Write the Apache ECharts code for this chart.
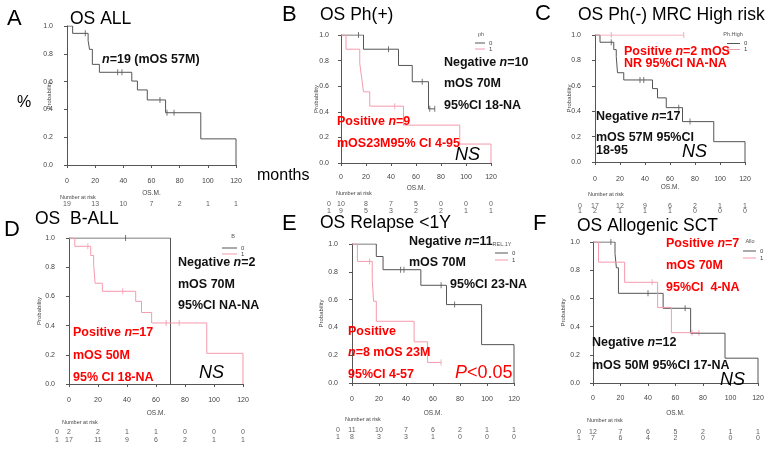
<!DOCTYPE html>
<html>
<head>
<meta charset="utf-8">
<script src="https://cdn.jsdelivr.net/npm/echarts@6.0.0/dist/echarts.min.js"></script>
<style>
  html, body { margin: 0; padding: 0; background: #fff; }
  #chart { width: 770px; height: 449px; }
</style>
</head>
<body>
<div id="chart"></div>
<script>
const FONT = '"Liberation Sans", Arial, sans-serif'
const GREY = '#555', PINK = '#f59aac', RED = '#ff0000', INK = '#111'

// months on the x axis, also the columns of the risk tables
const ticks = [0, 20, 40, 60, 80, 100, 120]
const groups = ['0', '1']

// A  all patients
const allTime = [0, 4, 15, 16, 18, 23, 46, 50, 57, 70, 95, 120]
const allSurv = [1, 0.947, 0.894, 0.832, 0.724, 0.667, 0.604, 0.54, 0.468, 0.376, 0.188, 0]
const allCens = [13, 36, 39, 66, 71, 76]
const allRisk = [19, 13, 10, 7, 2, 1, 1]

// B  ph  (0 = negative, 1 = positive)
const phNegTime = [0, 18, 46, 57, 70, 75]
const phNegSurv = [1, 0.889, 0.762, 0.635, 0.423, 0.423]
const phNegCens = [14, 38, 65, 71, 75]
const phPosTime = [0, 4, 15, 16.5, 18, 23, 50, 95, 120]
const phPosSurv = [1, 0.889, 0.778, 0.667, 0.556, 0.444, 0.296, 0.148, 0]
const phPosCens = [43]
const phRisk0 = [10, 8, 7, 5, 0, 0, 0]
const phRisk1 = [9, 5, 3, 2, 2, 1, 1]

// C  Ph(-) MRC high risk
const hrNegTime = [0, 4, 15, 17, 18, 23, 46, 50, 57, 70, 95, 120]
const hrNegSurv = [1, 0.943, 0.885, 0.83, 0.703, 0.646, 0.578, 0.505, 0.428, 0.318, 0.16, 0]
const hrNegCens = [13, 36, 39, 67, 76]
const hrPosTime = [0, 71]
const hrPosSurv = [1, 1]
const hrPosCens = [13, 71]
const hrRisk0 = [17, 12, 9, 6, 2, 1, 1]
const hrRisk1 = [2, 1, 1, 1, 0, 0, 0]

// D  B-ALL
const bNegTime = [0, 70]
const bNegSurv = [1, 0]
const bNegCens = [39]
const bPosTime = [0, 4, 15, 17, 18, 23, 46, 50, 57, 95, 120]
const bPosSurv = [1, 0.943, 0.88, 0.82, 0.69, 0.635, 0.566, 0.49, 0.418, 0.21, 0]
const bPosCens = [13, 37, 67, 70, 76]
const bRisk0 = [2, 2, 1, 1, 0, 0, 0]
const bRisk1 = [17, 11, 9, 6, 2, 1, 1]

// E  relapse < 1 year
const relNegTime = [0, 18, 23, 51, 70, 96, 120]
const relNegSurv = [1, 0.91, 0.815, 0.703, 0.564, 0.276, 0]
const relNegCens = [36, 38.5, 66, 76]
const relPosTime = [0, 4, 15, 16, 18, 46, 56, 66]
const relPosSurv = [1, 0.875, 0.736, 0.588, 0.444, 0.296, 0.148, 0.148]
const relPosCens = [13, 66]
const relRisk0 = [11, 10, 7, 6, 2, 1, 1]
const relRisk1 = [8, 3, 3, 1, 0, 0, 0]

// F  allogenic SCT
const alloNegTime = [0, 16, 17, 18.5, 51, 71, 96, 120]
const alloNegSurv = [1, 0.918, 0.817, 0.636, 0.53, 0.353, 0.176, 0]
const alloNegCens = [13, 40, 67]
const alloPosTime = [0, 4, 23, 47, 57, 77]
const alloPosSurv = [1, 0.857, 0.714, 0.536, 0.357, 0.357]
const alloPosCens = [43, 72, 77]
const alloRisk0 = [12, 7, 6, 5, 2, 1, 1]
const alloRisk1 = [7, 6, 4, 2, 0, 0, 0]

// survival value of a step curve at time t (for placing censor ticks)
function stepAt(time, surv, t) {
  let v = surv[0]
  time.forEach((x, i) => { if (x <= t) v = surv[i] })
  return v
}

// box = [left, top, width, height] of the plotting area (0..120 by 0..1)
const panels = [
  { box: [67, 26, 169, 139], xOff: 7, yOff: 7, yName: 8, osGap: 18, riskTop: 204, riskGap: 7, rowShift: 0, nrY: 197,
    risk: [allRisk],
    curves: [{ name: 'all', t: allTime, s: allSurv, c: allCens, color: GREY }] },
  { box: [341, 35, 150, 128], xOff: 5, yOff: 5, yName: 17, osGap: 17, riskTop: 204, riskGap: 7, rowShift: 12, nrY: 193,
    risk: [phRisk0, phRisk1],
    curves: [{ name: '0', t: phNegTime, s: phNegSurv, c: phNegCens, color: GREY },
             { name: '1', t: phPosTime, s: phPosSurv, c: phPosCens, color: PINK }],
    legend: { title: 'ph', tx: 481, ty: 34, left: 475, top: 40, w: 10, h: 6 } },
  { box: [595, 35, 150, 127], xOff: 8, yOff: 7, yName: 16, osGap: 14, riskTop: 206, riskGap: 5, rowShift: 15, nrY: 194,
    risk: [hrRisk0, hrRisk1],
    curves: [{ name: '0', t: hrNegTime, s: hrNegSurv, c: hrNegCens, color: GREY },
             { name: '1', t: hrPosTime, s: hrPosSurv, c: hrPosCens, color: PINK }],
    legend: { title: 'Ph.High', tx: 733, ty: 34, left: 727, top: 40.5, w: 13, h: 5 } },
  { box: [69, 238, 174, 146], xOff: 7, yOff: 7, yName: 20, osGap: 19, riskTop: 432, riskGap: 8, rowShift: 12, nrY: 422,
    risk: [bRisk0, bRisk1],
    curves: [{ name: '0', t: bNegTime, s: bNegSurv, c: bNegCens, color: GREY },
             { name: '1', t: bPosTime, s: bPosSurv, c: bPosCens, color: PINK }],
    legend: { title: 'B', tx: 233, ty: 236, left: 222, top: 245, w: 15, h: 6 } },
  { box: [352, 244, 162, 139], xOff: 7, yOff: 7, yName: 21, osGap: 20, riskTop: 430, riskGap: 7, rowShift: 14, nrY: 419,
    risk: [relRisk0, relRisk1],
    curves: [{ name: '0', t: relNegTime, s: relNegSurv, c: relNegCens, color: GREY },
             { name: '1', t: relPosTime, s: relPosSurv, c: relPosCens, color: PINK }],
    legend: { title: 'REL.1Y', tx: 502, ty: 244, left: 495, top: 249.5, w: 13, h: 7 } },
  { box: [593, 242, 165, 141], xOff: 6, yOff: 6, yName: 21, osGap: 21, riskTop: 432, riskGap: 6, rowShift: 14, nrY: 420,
    risk: [alloRisk0, alloRisk1],
    curves: [{ name: '0', t: alloNegTime, s: alloNegSurv, c: alloNegCens, color: GREY },
             { name: '1', t: alloPosTime, s: alloPosSurv, c: alloPosCens, color: PINK }],
    legend: { title: 'Allo', tx: 750, ty: 241, left: 743, top: 247.5, w: 13, h: 7 } }
]

const small = { fontSize: 7, color: '#444', fontFamily: FONT }

const grid = [], xAxis = [], yAxis = [], series = [], legend = [], graphic = []

// plain or rich text; segments given as ['n'] are drawn italic
function label(x, y, parts, opt) {
  const o = Object.assign({ size: 12.5, color: INK, weight: 'bold' }, opt)
  const base = { fontSize: o.size, fontWeight: o.weight, fontFamily: FONT, fill: o.color }
  const segs = Array.isArray(parts) ? parts : [parts]
  const text = segs.map(s => typeof s === 'string' ? '{r|' + s + '}' : '{i|' + s[0] + '}').join('')
  return {
    type: 'text', x, y, z: 100,
    style: Object.assign({ text, verticalAlign: 'middle', align: o.align || 'left',
      rich: { r: base, i: Object.assign({}, base, { fontStyle: 'italic' }) } }, base)
  }
}

panels.forEach((p, i) => {
  const [left, top, width, height] = p.box
  grid.push({ left, top, width, height, outerBoundsMode: 'none' })
  xAxis.push({
    gridIndex: i, type: 'value', min: 0, max: 120, interval: 20, offset: p.xOff,
    name: 'OS.M.', nameLocation: 'middle', nameGap: p.osGap, nameMoveOverlap: false,
    nameTextStyle: { fontSize: 6.5, color: '#444', fontFamily: FONT },
    axisLine: { lineStyle: { color: GREY, width: 1 } },
    axisTick: { length: 3, lineStyle: { color: GREY } },
    axisLabel: Object.assign({ margin: 6 }, small),
    splitLine: { show: false }
  })
  yAxis.push({
    gridIndex: i, type: 'value', min: 0, max: 1, interval: 0.2, offset: p.yOff,
    name: 'Probability', nameLocation: 'middle', nameRotate: 90, nameGap: p.yName, nameMoveOverlap: false,
    nameTextStyle: { fontSize: 6, color: '#444', fontFamily: FONT },
    axisLine: { show: true, lineStyle: { color: GREY, width: 1 } },
    axisTick: { show: true, length: 3, lineStyle: { color: GREY } },
    axisLabel: Object.assign({ margin: 7, formatter: v => v.toFixed(1) }, small),
    splitLine: { show: false }
  })
  p.curves.forEach(c => {
    series.push({
      name: c.name, type: 'line', step: 'end', xAxisIndex: i, yAxisIndex: i,
      symbol: 'none', color: c.color, lineStyle: { color: c.color, width: 1 },
      data: c.t.map((t, k) => [t, c.s[k]]), animation: false
    })
    series.push({
      name: 'cens' + c.name, type: 'scatter', xAxisIndex: i, yAxisIndex: i,
      symbol: 'rect', symbolSize: [1, 6], itemStyle: { color: c.color },
      data: c.c.map(t => [t, stepAt(c.t, c.s, t)]), animation: false
    })
  })
  if (p.legend) {
    const L = p.legend
    legend.push({
      data: groups, left: L.left, top: L.top, orient: 'vertical', padding: 0,
      icon: 'rect', itemWidth: L.w, itemHeight: 1, itemGap: 0, selectedMode: false,
      textStyle: { fontSize: 6, lineHeight: L.h, color: '#444', fontFamily: FONT, padding: [0, 0, 0, -1] }
    })
    graphic.push(label(L.tx, L.ty, L.title, { size: 5.5, weight: 'normal', color: '#555', align: 'center' }))
  }
})

// number-at-risk tables: one small grid under each panel
panels.forEach((p, i) => {
  const gi = panels.length + i
  const [left, , width] = p.box
  grid.push({ left, top: p.riskTop, width, height: p.riskGap, outerBoundsMode: 'none' })
  xAxis.push({ gridIndex: gi, type: 'value', min: 0, max: 120, show: false })
  yAxis.push({ gridIndex: gi, type: 'value', min: 0, max: 1, inverse: true, show: false })
  const lbl = { show: true, position: 'inside', fontSize: 7, color: '#333', fontFamily: FONT }
  const data = []
  p.risk.forEach((row, r) => row.forEach((n, k) => data.push([ticks[k], r, n])))
  series.push({
    type: 'scatter', xAxisIndex: gi, yAxisIndex: gi, symbolSize: 0, data, animation: false,
    label: Object.assign({ formatter: d => d.value[2] }, lbl)
  })
  // group names to the left of each row
  if (p.rowShift) {
    series.push({
      type: 'scatter', xAxisIndex: gi, yAxisIndex: gi, symbolSize: 0, animation: false,
      data: p.risk.map((row, r) => [0, r, groups[r]]),
      label: Object.assign({ formatter: d => d.value[2], offset: [-p.rowShift, 0] }, lbl)
    })
  }
  graphic.push(label(left - p.yOff, p.nrY, 'Number at risk', { size: 5.5, weight: 'normal', color: '#444' }))
})

// panel letters and titles
const big = { size: 22, weight: 'normal', color: '#000' }
const ttl = { size: 17.5, weight: 'normal', color: '#000' }
graphic.push(
  label(7, 19, 'A', big), label(70, 19, 'OS ALL', ttl),
  label(282, 15, 'B', big), label(320, 15, 'OS Ph(+)', ttl),
  label(535, 14, 'C', big), label(578, 15, 'OS Ph(-) MRC High risk', ttl),
  label(4, 230, 'D', big), label(35, 219, 'OS  B-ALL', ttl),
  label(282, 224, 'E', big), label(320, 223, 'OS Relapse <1Y', ttl),
  label(533, 224, 'F', big), label(577, 226, 'OS Allogenic SCT', ttl),
  label(17, 103, '%', { size: 16, weight: 'normal', color: '#000' }),
  label(257, 176, 'months', { size: 16, weight: 'normal', color: '#000' })
)

// annotations
const red = { color: RED }
const ns = { size: 18, weight: 'normal', color: '#000' }
graphic.push(
  label(102, 60, [['n'], '=19 (mOS 57M)']),

  label(444, 63, ['Negative ', ['n'], '=10']),
  label(444, 84, 'mOS 70M'),
  label(444, 106, '95%CI 18-NA'),
  label(337, 122, ['Positive ', ['n'], '=9'], red),
  label(337, 144, 'mOS23M95% CI 4-95', red),
  label(455, 155, [['NS']], ns),

  label(624, 52, ['Positive ', ['n'], '=2 mOS'], red),
  label(624, 64, 'NR 95%CI NA-NA', red),
  label(596, 117, ['Negative ', ['n'], '=17']),
  label(596, 138, 'mOS 57M 95%CI'),
  label(596, 151, '18-95'),
  label(682, 152, [['NS']], ns),

  label(178, 263, ['Negative ', ['n'], '=2']),
  label(178, 285, 'mOS 70M'),
  label(178, 306, '95%CI NA-NA'),
  label(73, 333, ['Positive ', ['n'], '=17'], red),
  label(73, 356, 'mOS 50M', red),
  label(73, 378, '95% CI 18-NA', red),
  label(199, 373, [['NS']], ns),

  label(409, 242, ['Negative ', ['n'], '=11']),
  label(409, 263, 'mOS 70M'),
  label(450, 285, '95%CI 23-NA'),
  label(348, 332, 'Positive', red),
  label(348, 353, [['n'], '=8 mOS 23M'], red),
  label(348, 375, '95%CI 4-57', red),
  label(455, 373, [['P'], '<0.05'], { size: 18, weight: 'normal', color: RED }),

  label(666, 244, ['Positive ', ['n'], '=7'], red),
  label(666, 266, 'mOS 70M', red),
  label(666, 288, '95%CI  4-NA', red),
  label(592, 343, ['Negative ', ['n'], '=12']),
  label(592, 366, 'mOS 50M 95%CI 17-NA'),
  label(720, 380, [['NS']], ns)
)

const chart = echarts.init(document.getElementById('chart'), null, { renderer: 'canvas' })
chart.setOption({
  backgroundColor: '#fff',
  animation: false,
  textStyle: { fontFamily: FONT },
  grid, xAxis, yAxis, series, legend, graphic
})
</script>
</body>
</html>
